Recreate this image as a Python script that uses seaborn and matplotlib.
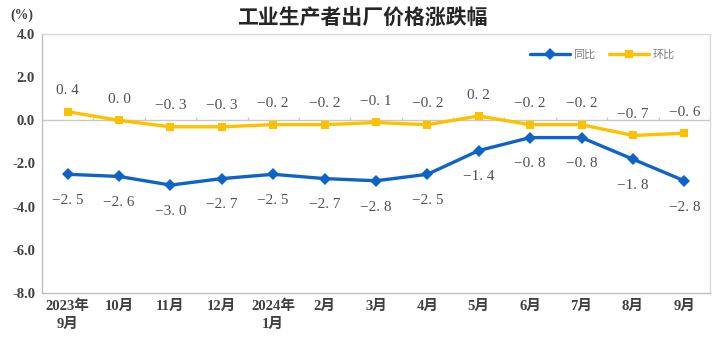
import numpy as np
import pandas as pd
import matplotlib
matplotlib.use("Agg")
import matplotlib.pyplot as plt
import seaborn as sns

months = ["2023年\n9月", "10月", "11月", "12月", "2024年\n1月", "2月", "3月",
          "4月", "5月", "6月", "7月", "8月", "9月"]
yoy = [-2.5, -2.6, -3.0, -2.7, -2.5, -2.7, -2.8, -2.5, -1.4, -0.8, -0.8, -1.8, -2.8]
mom = [0.4, 0.0, -0.3, -0.3, -0.2, -0.2, -0.1, -0.2, 0.2, -0.2, -0.2, -0.7, -0.6]
series_names = ["同比", "环比"]
yticks = [-8.0, -6.0, -4.0, -2.0, 0.0, 2.0, 4.0]

BLUE = "#0E64C6"
YELLOW = "#FFC000"

sns.set_theme(style="white")
plt.rcParams['font.family'] = ['Noto Sans CJK SC', 'DejaVu Sans']
plt.rcParams['axes.unicode_minus'] = False

x = np.arange(len(months))
df = pd.DataFrame({
    "x": np.concatenate([x, x]),
    "value": yoy + mom,
    "series": [series_names[0]] * len(x) + [series_names[1]] * len(x),
})

fig = plt.figure(figsize=(7.17, 3.42), dpi=100)
ax = fig.add_axes([42 / 717, 49 / 342, 668 / 717, 259 / 342])

sns.lineplot(data=df, x="x", y="value", hue="series", style="series",
             palette={"同比": BLUE, "环比": YELLOW},
             markers={"同比": "D", "环比": "s"}, dashes=False,
             linewidth=2.4, markersize=6, markeredgewidth=0, ax=ax)

ax.set_xlim(-0.5, len(months) - 0.5)
ax.set_ylim(-8, 4)
ax.set_yticks(yticks)
ax.set_yticklabels([f"{v:.1f}" for v in yticks],
                   family=['Liberation Serif', 'Noto Sans CJK SC'],
                   fontweight='bold', fontsize=10.5, color="#404040")
ax.set_xticks(x)
ax.set_xticklabels(months, family=['Liberation Serif', 'Noto Sans CJK SC'],
                   fontweight='bold', fontsize=10.5, color="#404040",
                   linespacing=1.45)
ax.tick_params(axis='x', length=0, pad=5)
ax.tick_params(axis='y', length=3, color="#BFBFBF", pad=2)
ax.set_xlabel("")
ax.set_ylabel("")

for s in ["left", "bottom"]:
    ax.spines[s].set_color("#BFBFBF")
    ax.spines[s].set_linewidth(1.0)
for s in ["top", "right"]:
    ax.spines[s].set_color("#D9D9D9")
    ax.spines[s].set_linewidth(1.0)

# zero line with category separators (Excel-style axis at 0)
ax.axhline(0, color="#C8C8C8", linewidth=1.0, zorder=1)
ax.vlines(np.arange(len(months) + 1) - 0.5, 0, 0.14, color="#C8C8C8", linewidth=1.0, zorder=1)

def fmt(v):
    s = f"{v:.1f}".replace("-", "\u2212")
    return s.replace(".", ". ")

lab_font = ['Liberation Serif', 'DejaVu Serif']
for xi, v in zip(x, mom):
    ax.annotate(fmt(v), (xi, v), xytext=(0, 15), textcoords='offset points',
                ha='center', va='center', fontsize=11, family=lab_font,
                color="#505050")
for xi, v in zip(x, yoy):
    ax.annotate(fmt(v), (xi, v), xytext=(0, -19), textcoords='offset points',
                ha='center', va='center', fontsize=11, family=lab_font,
                color="#505050")

handles, labels = ax.get_legend_handles_labels()
leg = ax.legend(handles, labels, loc='center left',
                bbox_to_anchor=((530 - 42) / 668, (293 - 55) / 259),
                ncol=2, frameon=False, fontsize=8, handlelength=3.6,
                handletextpad=0.3, columnspacing=1.2, borderaxespad=0, borderpad=0)
for t in leg.get_texts():
    t.set_color("#7F7F7F")

fig.text(362 / 717, 1 - 18 / 342, "工业生产者出厂价格涨跌幅", ha='center', va='center',
         fontsize=15, fontweight='bold', color="#262626",
         family=['Noto Sans CJK SC', 'DejaVu Sans'])
fig.text(22 / 717, 1 - 15 / 342, "(%)", ha='center', va='center', fontsize=10,
         fontweight='bold', color="#404040", family=['Liberation Serif', 'DejaVu Serif'])

fig.savefig("out.png", dpi=100)
